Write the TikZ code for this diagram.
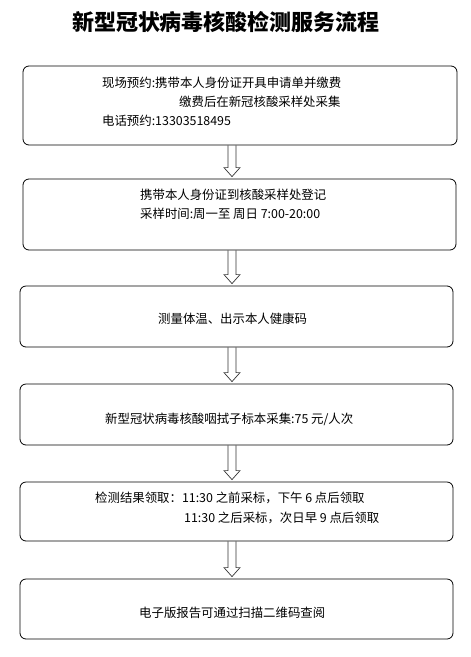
\documentclass[tikz,border=0pt]{standalone}
\usepackage{fontspec}
\setmainfont{Noto Sans CJK SC}
\usetikzlibrary{calc}

\tikzset{
  stepbox/.style={draw, rounded corners=6pt, line width=0.8pt, inner sep=0pt},
  linetext/.style={anchor=west, inner sep=0pt, font=\fontsize{12.4}{14}\selectfont},
  hollowarrow/.style={draw=black!80, line width=0.7pt},
}
% hollow block arrow from one box down to the next
\newcommand{\flowarrow}[2]{%
  \draw[hollowarrow] ($(#1.south -| col)+(-4pt,0)$) -- ($(#2.north -| col)+(-4pt,11pt)$)
    -- ($(#2.north -| col)+(-8pt,11pt)$) -- ($(#2.north -| col)+(0,2pt)$)
    -- ($(#2.north -| col)+(8pt,11pt)$) -- ($(#2.north -| col)+(4pt,11pt)$)
    -- ($(#1.south -| col)+(4pt,0)$);}

\begin{document}
\begin{tikzpicture}[x=1pt,y=-1pt]
\useasboundingbox (0,0) rectangle (471,657);
\coordinate (col) at (232,0);

\node[font=\fontsize{22}{25}\selectfont\bfseries] (title) at (226,22) {新型冠状病毒核酸检测服务流程};

% boxes
\node[stepbox, minimum width=434pt, minimum height=79pt] (b1) at (240,105.5) {};
\node[stepbox, minimum width=433pt, minimum height=71pt] (b2) at (239.5,214.5) {};
\node[stepbox, minimum width=433pt, minimum height=61pt] (b3) at (236.5,316.5) {};
\node[stepbox, minimum width=433pt, minimum height=61pt] (b4) at (236.5,414.5) {};
\node[stepbox, minimum width=433pt, minimum height=59pt] (b5) at (236.5,511.5) {};
\node[stepbox, minimum width=433pt, minimum height=60pt] (b6) at (236.5,609) {};

% texts
\node[linetext] (t1a) at (102,83) {现场预约:携带本人身份证开具申请单并缴费};
\node[linetext] (t1b) at (179,102) {缴费后在新冠核酸采样处采集};
\node[linetext] (t1c) at (102,121) {电话预约:13303518495};
\node[linetext] (t2a) at (140,195) {携带本人身份证到核酸采样处登记};
\node[linetext] (t2b) at (140,214) {采样时间:周一至 周日 7:00-20:00};
\node[linetext] (t3) at (158,319) {测量体温、出示本人健康码};
\node[linetext] (t4) at (105,419) {新型冠状病毒核酸咽拭子标本采集:75 元/人次};
\node[linetext] (t5a) at (95,498) {检测结果领取：11:30 之前采标，下午 6 点后领取};
\node[linetext] (t5b) at (184,518) {11:30 之后采标，次日早 9 点后领取};
\node[linetext] (t6) at (139,613) {电子版报告可通过扫描二维码查阅};

% arrows
\flowarrow{b1}{b2}
\flowarrow{b2}{b3}
\flowarrow{b3}{b4}
\flowarrow{b4}{b5}
\flowarrow{b5}{b6}
\end{tikzpicture}
\end{document}
